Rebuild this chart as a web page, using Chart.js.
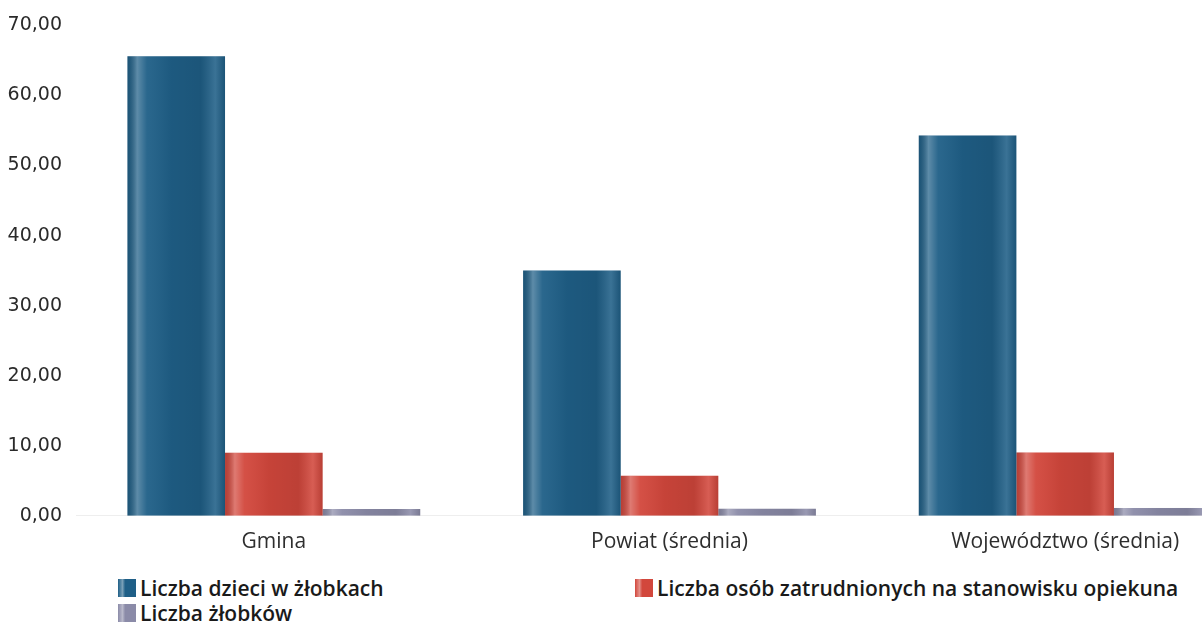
<!DOCTYPE html>
<html>
<head>
<meta charset="utf-8">
<script src="https://cdn.jsdelivr.net/npm/chart.js@4/dist/chart.umd.min.js"></script>
<style>
    html, body { margin: 0; padding: 0; background: #fff; overflow: hidden; }
    .wrap { position: relative; width: 1202px; height: 622px; overflow: hidden; }
    #chart { position: absolute; left: 0; top: 0; }
    .legend-item {
        position: absolute;
        display: flex;
        align-items: center;
        font-family: 'Open Sans', sans-serif;
        font-size: 21px;
        font-weight: 600;
        color: #1a1a1a;
        white-space: nowrap;
    }
    .legend-box { width: 18px; height: 18px; margin-right: 4px; }
</style>
</head>
<body>
<div class="wrap">
    <canvas id="chart" width="1266" height="569"></canvas>
    <div id="legend"></div>
</div>
<script>
// Data
const categories = ['Gmina', 'Powiat (średnia)', 'Województwo (średnia)'];
const seriesNames = ['Liczba dzieci w żłobkach', 'Liczba osób zatrudnionych na stanowisku opiekuna', 'Liczba żłobków'];
const dzieci = [65.6, 35.0, 54.3];
const opiekunowie = [9.0, 5.7, 9.05];
const zlobki = [0.97, 1.0, 1.13];
const yTicks = [0, 10, 20, 30, 40, 50, 60, 70];

const colors = ['#1f5f87', '#d2473c', '#8b8ba8'];

// Legend positions (left, top) in the page
const legendSlots = [[118, 574], [635, 574], [118, 599]];

// Cylinder-like shading over each bar
const shadePlugin = {
    id: 'shade',
    afterDatasetsDraw(chart) {
        const ctx = chart.ctx;
        chart.data.datasets.forEach((ds, i) => {
            const meta = chart.getDatasetMeta(i);
            meta.data.forEach(bar => {
                const left = bar.x - bar.width / 2;
                const right = bar.x + bar.width / 2;
                const g = ctx.createLinearGradient(left, 0, right, 0);
                g.addColorStop(0, 'rgba(0,0,0,0.12)');
                g.addColorStop(0.1, 'rgba(255,255,255,0.28)');
                g.addColorStop(0.2, 'rgba(255,255,255,0.05)');
                g.addColorStop(0.45, 'rgba(0,0,0,0.06)');
                g.addColorStop(0.75, 'rgba(0,0,0,0.1)');
                g.addColorStop(0.9, 'rgba(255,255,255,0.12)');
                g.addColorStop(1, 'rgba(0,0,0,0.12)');
                ctx.save();
                ctx.fillStyle = g;
                ctx.fillRect(left, bar.y, bar.width, bar.base - bar.y);
                ctx.restore();
            });
        });
    }
};

const ctx = document.getElementById('chart').getContext('2d');
new Chart(ctx, {
    type: 'bar',
    data: {
        labels: categories,
        datasets: [
            { label: seriesNames[0], data: dzieci, backgroundColor: colors[0] },
            { label: seriesNames[1], data: opiekunowie, backgroundColor: colors[1] },
            { label: seriesNames[2], data: zlobki, backgroundColor: colors[2] }
        ]
    },
    options: {
        responsive: false,
        animation: false,
        layout: { padding: { top: 14, left: 7, right: 3, bottom: 0 } },
        datasets: {
            bar: { barPercentage: 1, categoryPercentage: 0.74, borderWidth: 0 }
        },
        plugins: {
            legend: { display: false },
            tooltip: { enabled: false }
        },
        scales: {
            x: {
                grid: { display: false, drawTicks: false },
                border: { color: '#eeeeee' },
                ticks: {
                    color: '#2e2e2e',
                    padding: 14,
                    font: { family: "'Open Sans', sans-serif", size: 21 }
                }
            },
            y: {
                min: 0,
                max: 70,
                afterBuildTicks: axis => { axis.ticks = yTicks.map(v => ({ value: v })); },
                afterFit: axis => { axis.width = 69; },
                grid: { display: false, drawTicks: false },
                border: { display: false },
                ticks: {
                    color: '#2a2a2a',
                    padding: 14,
                    font: { family: "'DejaVu Sans', sans-serif", size: 19 },
                    callback: v => v.toFixed(2).replace('.', ',')
                }
            }
        }
    },
    plugins: [shadePlugin]
});

// HTML legend
const legendEl = document.getElementById('legend');
seriesNames.forEach((name, i) => {
    const item = document.createElement('div');
    item.className = 'legend-item';
    item.style.left = legendSlots[i][0] + 'px';
    item.style.top = legendSlots[i][1] + 'px';
    item.innerHTML = `<span class="legend-box" style="background: linear-gradient(90deg, ${colors[i]} 0%, #ffffff66 25%, ${colors[i]} 40%, ${colors[i]} 100%); background-color: ${colors[i]}"></span><span>${name}</span>`;
    legendEl.appendChild(item);
});
</script>
</body>
</html>
